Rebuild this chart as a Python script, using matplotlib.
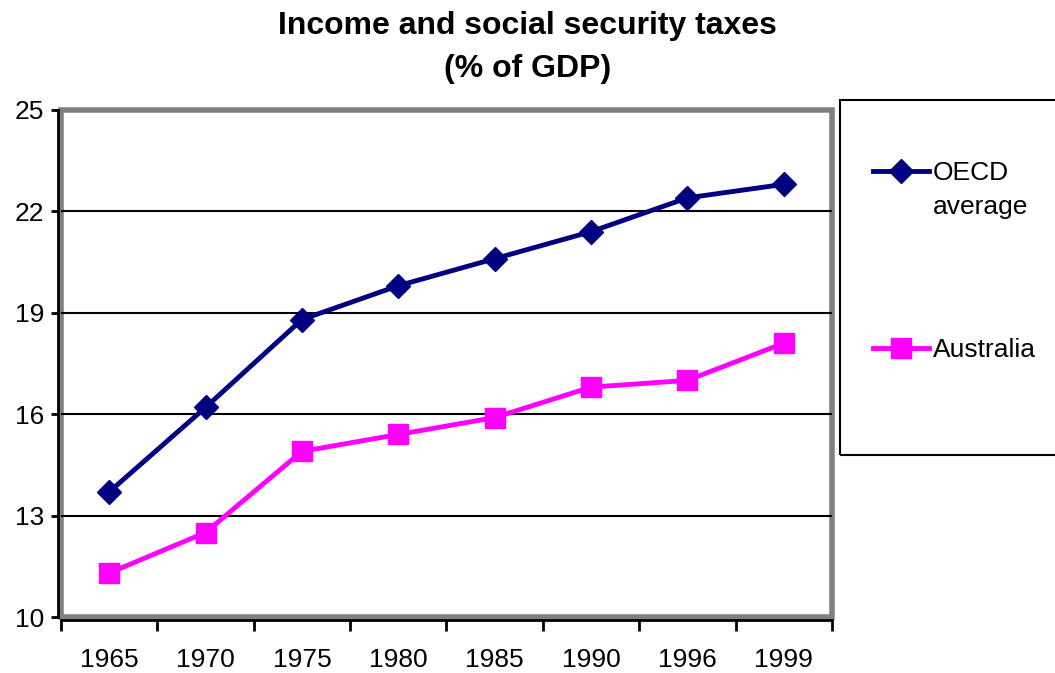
import matplotlib.pyplot as plt
from matplotlib.lines import Line2D
from matplotlib.patches import Rectangle

plt.rcParams['font.family'] = ['Liberation Sans', 'DejaVu Sans']

years = ["1965", "1970", "1975", "1980", "1985", "1990", "1996", "1999"]
oecd = [13.7, 16.2, 18.8, 19.8, 20.6, 21.4, 22.4, 22.8]
australia = [11.3, 12.5, 14.9, 15.4, 15.9, 16.8, 17.0, 18.1]
yticks = [10, 13, 16, 19, 22, 25]

fig = plt.figure(figsize=(10.55, 6.73), dpi=100)
ax = fig.add_axes([0.0578, 0.0832, 0.7308, 0.7534])

x = range(len(years))
for yv in yticks[1:-1]:
    ax.axhline(yv, color="black", lw=1.5, zorder=1)

navy_style = dict(color="#000080", lw=3.5, marker="D", ms=12)
pink_style = dict(color="#FF00FF", lw=3.5, marker="s", ms=15)
ax.plot(x, oecd, zorder=3, **navy_style)
ax.plot(x, australia, zorder=3, **pink_style)

ax.set_xlim(-0.5, len(years) - 0.5)
ax.set_ylim(10, 25)
ax.set_yticks(yticks)
ax.set_xticks(list(x))
ax.set_xticklabels(years)
ax.set_xticks([i - 0.5 for i in range(len(years) + 1)], minor=True)
ax.tick_params(axis="x", which="major", length=0, pad=20, labelsize=19)
ax.tick_params(axis="x", which="minor", length=8, width=2, direction="out")
ax.tick_params(axis="y", length=5, width=2, direction="out", labelsize=19, pad=5)

# gray plot-area frame with black axis lines on left and bottom
ax.add_patch(Rectangle((0, 0), 1, 1, transform=ax.transAxes, fill=False,
                       ec="#808080", lw=4, clip_on=False, zorder=0))
for side in ("top", "right"):
    ax.spines[side].set_visible(False)
for side in ("left", "bottom"):
    ax.spines[side].set_color("black")
    ax.spines[side].set_linewidth(2)
    ax.spines[side].set_position(("outward", 2))

fig.suptitle("Income and social security taxes\n(% of GDP)", fontsize=23,
             fontweight="bold", y=0.983, linespacing=1.55)

# legend box
fig.add_artist(Rectangle((840 / 1055, 1 - 455 / 673), 0.3, 355 / 673,
                         transform=fig.transFigure, fill=False, ec="black",
                         lw=1.5))
handles = [Line2D([], [], **navy_style), Line2D([], [], **pink_style)]
leg = fig.legend(handles, ["OECD", "Australia"], loc="upper left",
                 bbox_to_anchor=(860 / 1055, 1 - 148 / 673), frameon=False,
                 fontsize=19, handlelength=2.1, handletextpad=0.15,
                 labelspacing=5.8, borderpad=0)

# second line of the OECD label, set under the first
fig.canvas.draw()
bb = leg.get_texts()[0].get_window_extent().transformed(fig.transFigure.inverted())
fig.text(bb.x0, bb.y0 - 34 / 673, "average", fontsize=19, va="bottom", ha="left")

fig.savefig("out.png", dpi=100)
